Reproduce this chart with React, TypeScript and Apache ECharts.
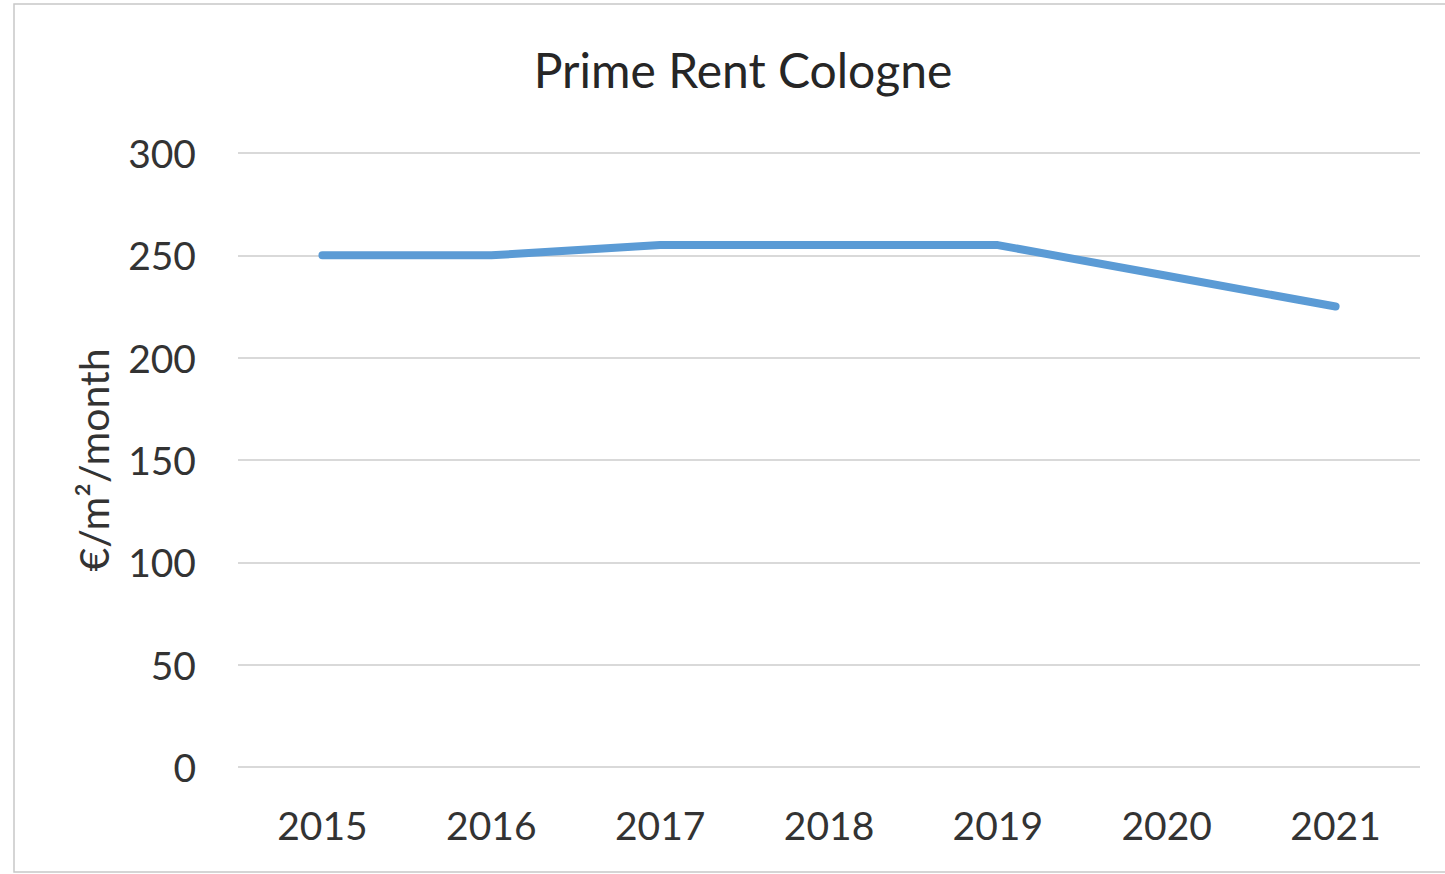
import React, { useEffect, useRef } from "react";
import * as echarts from "echarts";

const years = ["2015", "2016", "2017", "2018", "2019", "2020", "2021"];
const primeRent = [250, 250, 255, 255, 255, 240, 225];
const chartTitle = "Prime Rent Cologne";
const yAxisName = "€/m²/month";

export default function App() {
  const ref = useRef<HTMLDivElement>(null);
  useEffect(() => {
    document.body.style.margin = "0";
    const chart = echarts.init(ref.current!, null, { renderer: "svg" });
    const font = "Lato, 'Open Sans', sans-serif";
    chart.setOption({
      animation: false,
      backgroundColor: "#ffffff",
      title: {
        text: chartTitle,
        left: 738,
        textAlign: "center",
        top: 40,
        textStyle: { fontFamily: font, fontSize: 48, fontWeight: "normal", color: "#262626" },
      },
      graphic: [
        {
          type: "rect",
          shape: { x: 14, y: 4, width: 1445, height: 868 },
          style: { fill: "none", stroke: "#c8c8c8", lineWidth: 1.5 },
          silent: true,
        },
      ],
      grid: { left: 238, right: 25, top: 153, bottom: 107, containLabel: false },
      xAxis: {
        type: "category",
        data: years,
        boundaryGap: true,
        axisLine: { show: false },
        axisTick: { show: false },
        axisLabel: { fontFamily: font, fontSize: 39, color: "#333333", margin: 38 },
      },
      yAxis: {
        type: "value",
        min: 0,
        max: 300,
        interval: 50,
        name: yAxisName,
        nameLocation: "middle",
        nameGap: 124,
        nameRotate: 90,
        nameTextStyle: { fontFamily: font, fontSize: 41, color: "#333333" },
        axisLine: { show: false },
        axisTick: { show: false },
        axisLabel: { fontFamily: font, fontSize: 39, color: "#333333", margin: 42 },
        splitLine: { lineStyle: { color: "#d9d9d9", width: 2 } },
      },
      series: [
        {
          type: "line",
          data: primeRent,
          symbol: "none",
          lineStyle: { color: "#5b9bd5", width: 8, cap: "round", join: "round" },
          itemStyle: { color: "#5b9bd5" },
        },
      ],
    });
    return () => chart.dispose();
  }, []);
  return (
    <div
      ref={ref}
      style={{ position: "absolute", left: 0, top: 0, width: 1445, height: 874 }}
    />
  );
}
